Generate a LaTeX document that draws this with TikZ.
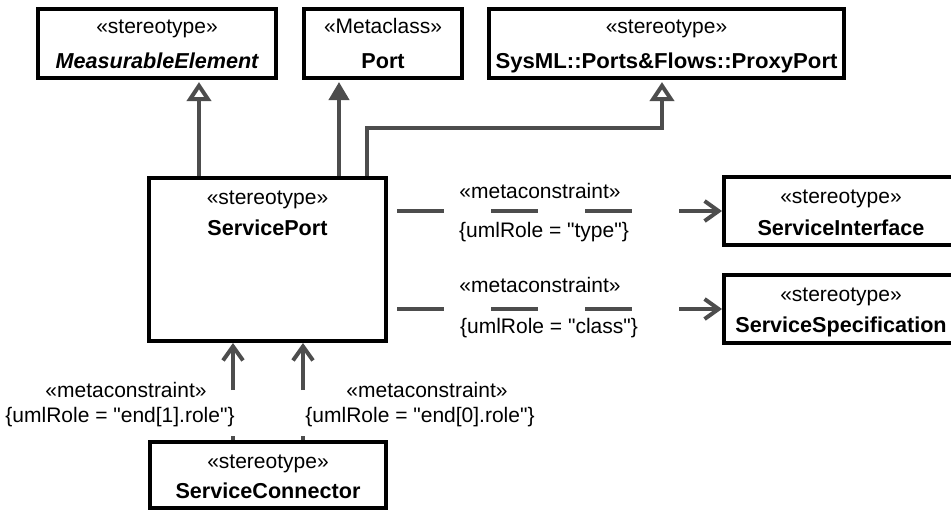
\documentclass[tikz,border=0pt]{standalone}
\usepackage{fontspec}
\newfontfamily\lsans{Liberation Sans}
\usetikzlibrary{arrows.meta,backgrounds}
\definecolor{conncol}{RGB}{77,77,77}
\begin{document}
\begin{tikzpicture}[x=0.5pt,y=-0.5pt,
  every node/.append style={font=\lsans\fontsize{10.5}{12}\selectfont},
  box/.style={draw=black, line width=2pt, fill=white, inner sep=0pt, rectangle},
  st/.style={anchor=base, inner sep=0pt},
  nm/.style={anchor=base, inner sep=0pt, font=\lsans\fontsize{10.8}{13}\selectfont\bfseries},
  conn/.style={draw=conncol, line width=2pt},
  gen/.style={conn, -{Triangle[open, length=9.5pt, width=12pt]}, shorten >=1pt},
  fgen/.style={conn, -{Triangle[length=9pt, width=10pt]}, shorten >=1pt},
  dep/.style={conn, -{Straight Barb[length=7pt, width=10pt]}},
  dashline/.style={dash pattern=on 23.5pt off 23.5pt},
]
\useasboundingbox (0,0) rectangle (951,511);
\clip (0,0) rectangle (951,511);

% boxes
\node[box, minimum width=119pt, minimum height=34.5pt] (me) at (157,43.5) {};
\node[st] (me1) at (157,33) {«stereotype»};
\node[nm, font=\lsans\fontsize{10.8}{13}\selectfont\bfseries\itshape] (me2) at (157,68) {MeasurableElement};

\node[box, minimum width=79pt, minimum height=34.5pt] (port) at (383,43.5) {};
\node[st] (port1) at (383,33) {«Metaclass»};
\node[nm] (port2) at (383,68) {Port};

\node[box, minimum width=177.5pt, minimum height=34.5pt] (proxy) at (666.5,43.5) {};
\node[st] (proxy1) at (666.5,33) {«stereotype»};
\node[nm] (proxy2) at (666.5,68) {\scalebox{1.025}[1]{SysML::Ports\&Flows::ProxyPort}};

\node[box, minimum width=118.5pt, minimum height=81.5pt] (sp) at (267.5,259.5) {};
\node[st] (sp1) at (267.5,204) {«stereotype»};
\node[nm] (sp2) at (267.5,235) {ServicePort};

\node[box, minimum width=117pt, minimum height=34pt] (si) at (841,211) {};
\node[st] (si1) at (841,203) {«stereotype»};
\node[nm] (si2) at (841,235) {ServiceInterface};

\node[box, minimum width=117pt, minimum height=34pt] (ss) at (841,309) {};
\node[st] (ss1) at (841,301) {«stereotype»};
\node[nm] (ss2) at (841,332) {ServiceSpecification};

\node[box, minimum width=118pt, minimum height=33pt] (sc) at (268,475) {};
\node[st] (sc1) at (268,468) {«stereotype»};
\node[nm] (sc2) at (268,498) {ServiceConnector};

% helper coordinates
\coordinate (xme) at (199,0);
\coordinate (xport) at (339,0);
\coordinate (xpp) at (367,0);
\coordinate (kpp) at (662,128);
\coordinate (e1) at (233,390);
\coordinate (e0) at (303,390);
\coordinate (s1) at (233,436);
\coordinate (s0) at (303,436);

\begin{scope}[on background layer]
\draw[gen] (sp.north -| xme) -- (me.south -| xme);
\draw[fgen] (sp.north -| xport) -- (port.south -| xport);
\draw[gen] (sp.north -| xpp) |- (kpp) -- (proxy.south -| kpp);
\draw[dep, dashline, shorten <=4.5pt] (sp.east |- si.west) -- (si.west);
\draw[dep, dashline, shorten <=4.5pt] (sp.east |- ss.west) -- (ss.west);
\draw[dep] (e1) -- (sp.south -| e1);
\draw[dep] (e0) -- (sp.south -| e0);
\draw[conn] (sc.north -| s1) -- (s1);
\draw[conn] (sc.north -| s0) -- (s0);
\end{scope}

% connector labels
\node[st] (mc1) at (540,198) {«metaconstraint»};
\node[st] (ur1) at (544,237) {\{umlRole = "type"\}};
\node[st] (mc2) at (540,292) {«metaconstraint»};
\node[st] (ur2) at (549,333) {\{umlRole = "class"\}};
\node[st] (mc3) at (126,397) {«metaconstraint»};
\node[st] (ur3) at (120,422) {\{umlRole = "end[1].role"\}};
\node[st] (mc4) at (427,397) {«metaconstraint»};
\node[st] (ur4) at (420,422) {\{umlRole = "end[0].role"\}};
\end{tikzpicture}
\end{document}
